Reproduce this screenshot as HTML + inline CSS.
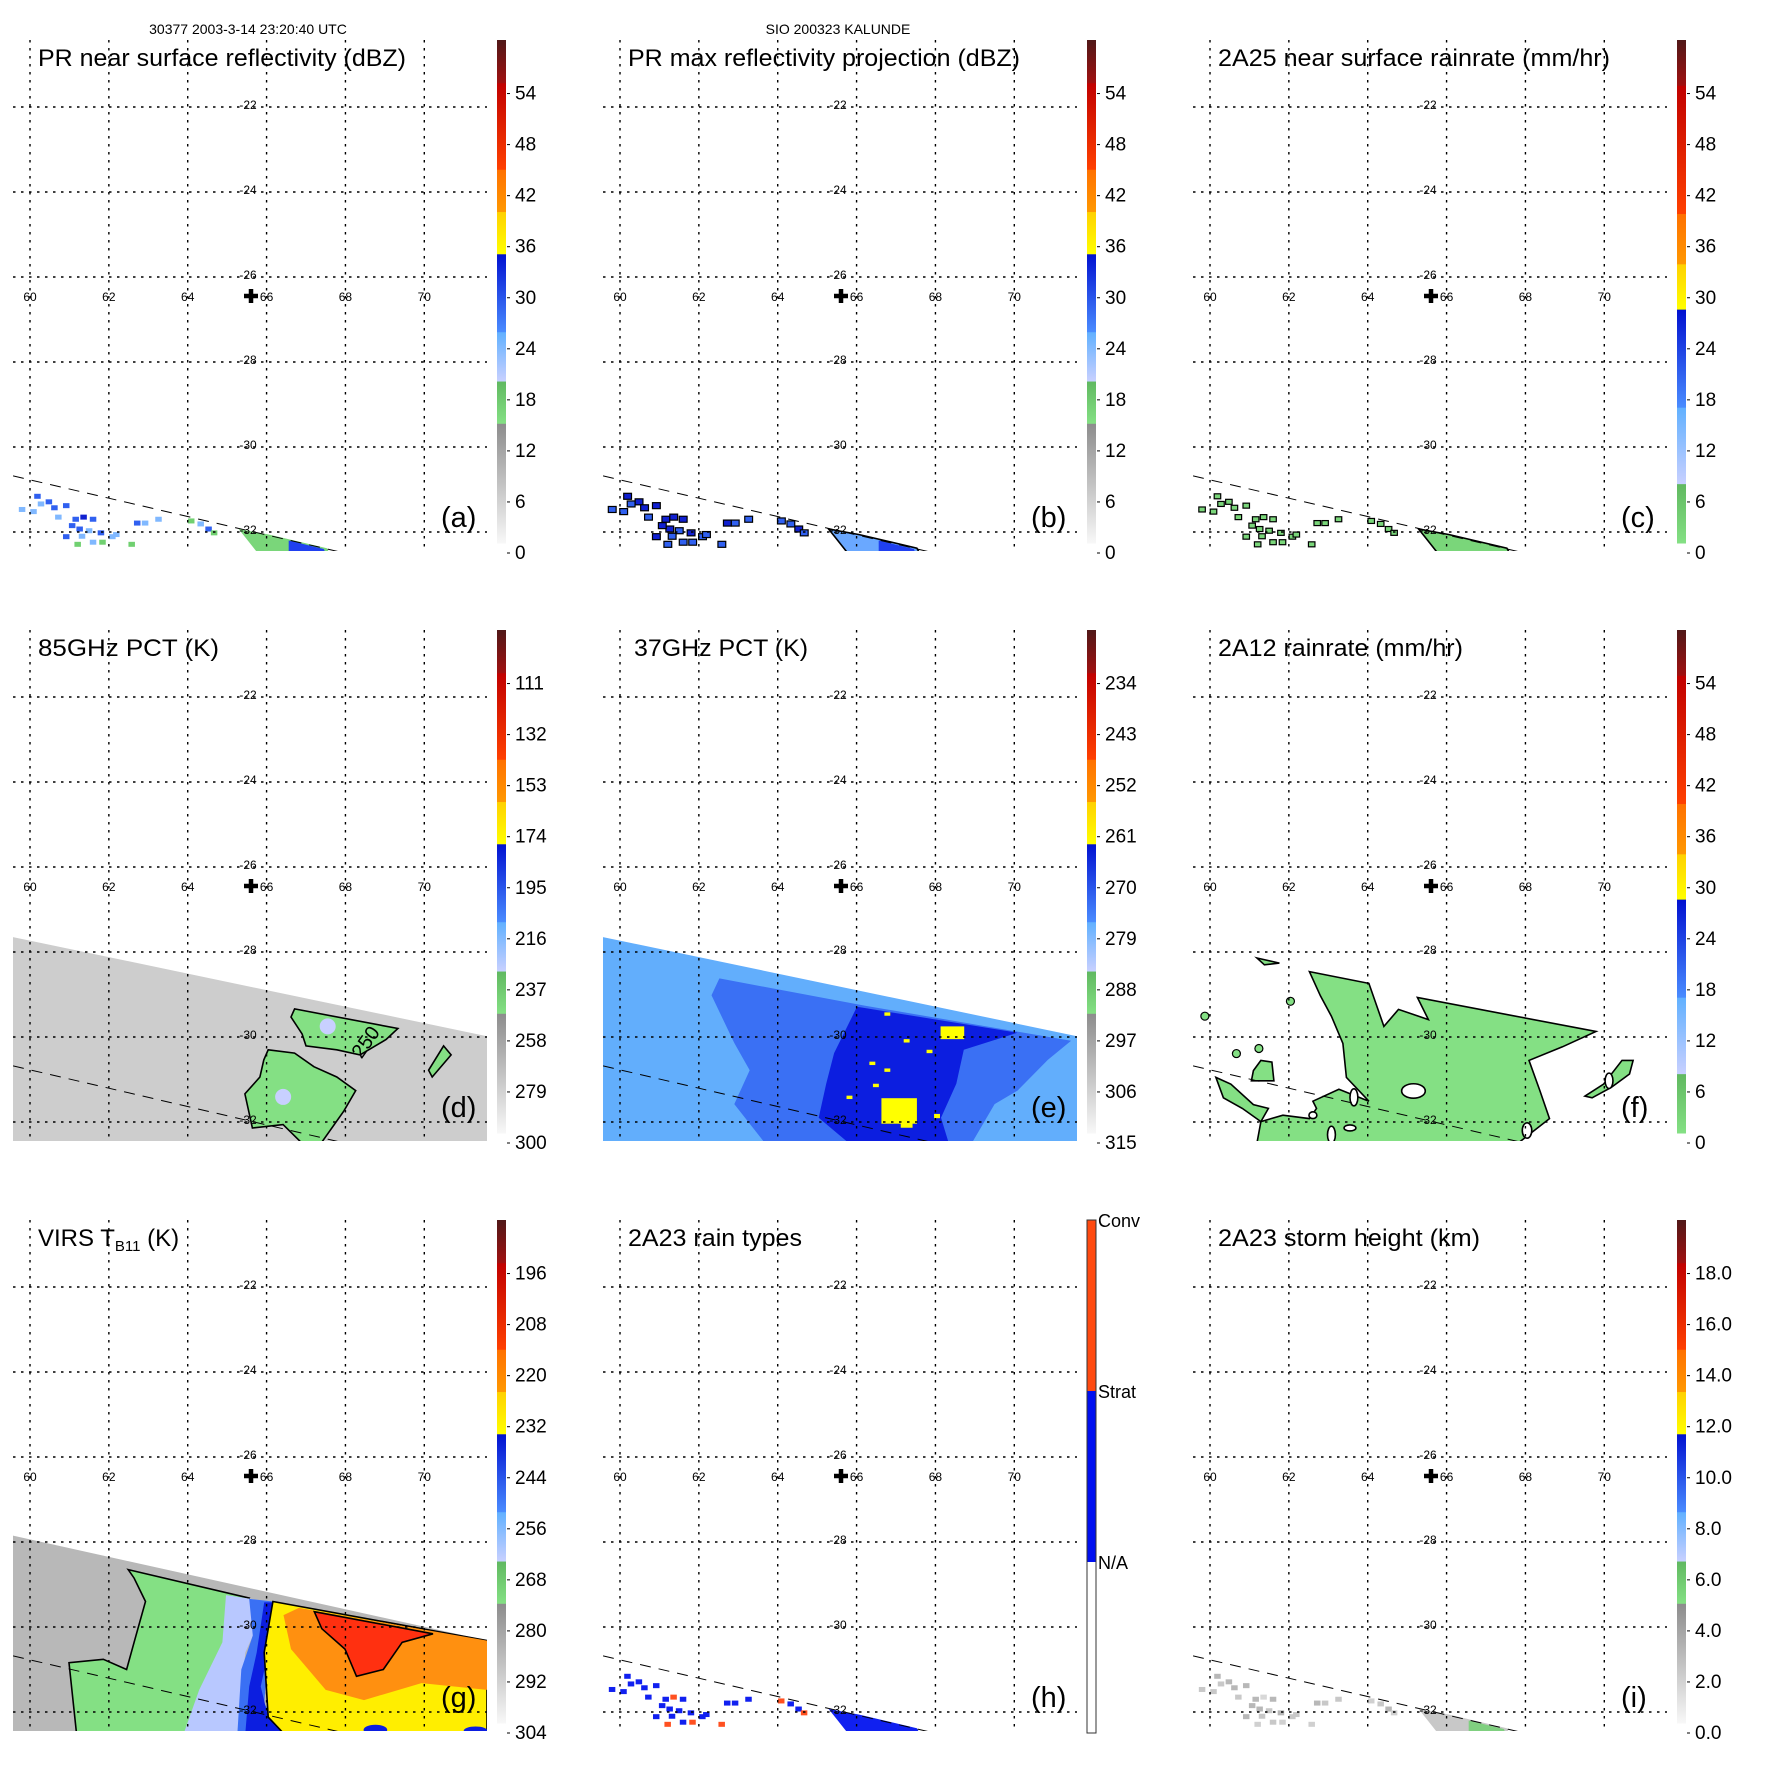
<!DOCTYPE html>
<html><head><meta charset="utf-8">
<style>
html,body{margin:0;padding:0;background:#fff;}
svg{display:block;font-family:"Liberation Sans",sans-serif;}
</style></head>
<body>
<svg id="fig" width="1771" height="1771" viewBox="0 0 1771 1771" xmlns="http://www.w3.org/2000/svg">
<text x="248" y="34" font-size="14" text-anchor="middle">30377 2003-3-14 23:20:40 UTC</text>
<text x="838" y="34" font-size="14" text-anchor="middle">SIO 200323 KALUNDE</text>
</svg>
<script>
const LON_TICKS=[60,62,64,66,68,70];
const LAT_TICKS=[-22,-24,-26,-28,-30,-32];
const TITLES=["PR near surface reflectivity (dBZ)","PR max reflectivity projection (dBZ)","2A25 near surface rainrate (mm/hr)","85GHz PCT (K)","37GHz PCT (K)","2A12 rainrate (mm/hr)","VIRS T","2A23 rain types","2A23 storm height (km)"];
const TITLE_W=[368,392,392,181,174,245,0,174,262];
const LETTERS=["(a)","(b)","(c)","(d)","(e)","(f)","(g)","(h)","(i)"];
const CB_A=["0","6","12","18","24","30","36","42","48","54"];
const CB_D=["300","279","258","237","216","195","174","153","132","111"];
const CB_E=["315","306","297","288","279","270","261","252","243","234"];
const CB_G=["304","292","280","268","256","244","232","220","208","196"];
const CB_I=["0.0","2.0","4.0","6.0","8.0","10.0","12.0","14.0","16.0","18.0"];
const CB_H=["N/A","Strat","Conv"];
const PR_EDGE=[[59.57,-30.68],[68.0,-32.5]];
const TMI_SWATH=[[59.57,-27.65],[71.59,-29.98],[71.59,-32.5],[59.57,-32.5]];
const VIRS_SWATH=[[59.57,-27.85],[71.59,-30.32],[71.59,-32.5],[59.57,-32.5]];
const PR_DOTS=[[59.78,-31.47,1],[60.17,-31.16,2],[60.26,-31.34,1],[60.46,-31.29,2],[60.60,-31.43,2],[60.90,-31.38,2],[60.70,-31.65,1],[61.14,-31.70,2],[61.34,-31.65,3],[61.58,-31.70,2],[61.24,-31.93,2],[61.48,-31.97,1],[61.78,-32.02,2],[62.07,-32.11,1],[61.19,-32.29,0],[61.58,-32.24,1],[62.17,-32.06,1],[62.70,-31.79,2],[62.90,-31.79,1],[63.24,-31.70,1],[64.07,-31.74,0],[64.31,-31.81,1],[64.51,-31.93,2],[64.65,-32.02,0],[62.56,-32.29,0],[60.07,-31.52,1],[60.90,-32.11,2],[61.82,-32.24,0],[61.05,-31.85,2],[61.30,-32.10,1]];
const PR_STRIP=[[65.29,-31.93],[66.07,-32.06],[67.53,-32.38],[67.6,-32.5],[65.78,-32.5],[65.48,-32.15]];
const PR_CORE=[[66.56,-32.20],[67.45,-32.40],[67.5,-32.5],[66.56,-32.5]];
const D_GREEN1=[[66.71,-29.34],[69.33,-29.80],[69.03,-30.06],[68.37,-30.42],[67.78,-30.30],[67.00,-30.21],[66.90,-29.93],[66.62,-29.53]];
const D_GREEN2=[[66.04,-30.30],[66.71,-30.38],[67.20,-30.70],[67.78,-30.94],[68.26,-31.26],[67.96,-31.74],[67.38,-32.5],[66.90,-32.5],[66.42,-32.06],[65.64,-32.14],[65.45,-31.34],[65.83,-30.94],[65.93,-30.54]];
const D_ISLAND=[[70.49,-30.21],[70.68,-30.42],[70.20,-30.94],[70.11,-30.78]];
const D_BLUE=[[66.42,-31.41],[67.55,-29.75]];
const E_MID=[[62.52,-28.62],[66.20,-29.26],[71.44,-30.09],[70.85,-30.54],[70.08,-31.26],[69.50,-31.58],[68.92,-32.5],[63.68,-32.5],[62.90,-31.58],[63.29,-30.78],[62.90,-30.14],[62.32,-29.02]];
const E_DEEP=[[66.01,-29.29],[70.08,-29.90],[68.72,-30.30],[68.53,-31.10],[68.14,-31.90],[68.34,-32.5],[65.81,-32.5],[65.04,-31.90],[65.23,-31.10],[65.43,-30.38]];
const E_YELLOW=[[68.43,-29.90,0.6,0.3],[66.78,-29.46,0.15,0.08],[67.27,-30.09,0.15,0.08],[67.85,-30.34,0.15,0.08],[66.40,-30.62,0.15,0.08],[66.78,-30.78,0.15,0.08],[66.49,-31.14,0.15,0.08],[65.82,-31.42,0.15,0.08],[67.08,-31.74,0.9,0.6],[68.04,-31.86,0.15,0.1],[67.27,-32.06,0.3,0.15]];
const F_MAIN=[[62.52,-28.46],[64.03,-28.74],[64.41,-29.75],[64.78,-29.35],[65.16,-29.47],[65.54,-29.59],[65.26,-29.07],[69.79,-29.87],[68.94,-30.23],[68.09,-30.55],[68.37,-31.27],[68.61,-31.92],[67.81,-32.5],[61.19,-32.5],[61.29,-31.99],[61.85,-31.84],[62.52,-31.92],[62.70,-31.68],[62.61,-31.51],[63.27,-31.23],[64.03,-31.51],[63.46,-30.95],[63.37,-30.15],[63.08,-29.51],[62.80,-29.03]];
const F_ARM=[[60.15,-30.95],[60.53,-31.11],[61.10,-31.59],[61.48,-31.68],[61.29,-31.99],[60.82,-31.68],[60.34,-31.43]];
const F_BLOB=[[61.29,-30.55],[61.57,-30.59],[61.62,-31.03],[61.05,-31.03],[61.10,-30.79]];
const F_ISLAND=[[69.51,-31.39],[69.98,-31.11],[70.45,-30.55],[70.73,-30.55],[70.64,-30.87],[70.17,-31.19],[69.69,-31.43]];
const F_TOP=[[61.19,-28.14],[61.76,-28.26],[61.38,-28.30]];
const F_SMALL=[[62.04,-29.16],[59.87,-29.51],[60.67,-30.39],[61.24,-30.27]];
const F_HOLES=[[65.16,-31.27,0.3,0.17],[63.65,-31.42,0.1,0.2],[63.08,-32.30,0.1,0.2],[68.04,-32.20,0.12,0.18],[70.12,-31.03,0.1,0.18],[62.61,-31.84,0.1,0.08],[63.55,-32.14,0.15,0.07]];
const G_GREEN=[[62.49,-28.65],[65.56,-29.32],[65.07,-30.20],[64.68,-32.5],[61.18,-32.5],[60.99,-30.84],[61.86,-30.76],[62.45,-31.00],[62.64,-30.36],[62.93,-29.40],[62.64,-28.85]];
const G_LBLUE=[[64.97,-29.25],[66.04,-29.40],[65.46,-30.60],[65.26,-32.5],[63.90,-32.5],[64.29,-31.48],[64.88,-30.36]];
const G_BLUE=[[65.56,-29.34],[66.16,-29.40],[66.04,-30.60],[65.94,-31.80],[66.43,-32.5],[65.26,-32.5],[65.36,-31.00],[65.65,-30.20]];
const G_DEEP=[[65.94,-29.42],[66.16,-29.42],[66.04,-30.60],[65.85,-31.40],[66.04,-32.12],[66.48,-32.5],[65.46,-32.5],[65.56,-31.40],[65.75,-30.60]];
const G_YELLOW=[[66.16,-29.40],[71.59,-30.32],[71.59,-32.5],[66.43,-32.5],[66.04,-32.12],[65.94,-30.60]];
const G_ORANGE=[[66.82,-29.55],[71.59,-30.32],[71.59,-31.48],[69.93,-31.32],[68.47,-31.72],[67.50,-31.48],[66.62,-30.52],[66.43,-29.72]];
const G_RED=[[67.21,-29.64],[70.22,-30.16],[69.44,-30.36],[68.96,-31.00],[68.28,-31.16],[67.99,-30.52],[67.40,-30.04]];
const G_BBLOBS=[[68.76,-32.42,0.3,0.12],[71.30,-32.44,0.3,0.1]];

const NS="http://www.w3.org/2000/svg";
const svg=document.getElementById('fig');
function lonX(lon){return 30+(lon-60)*39.43;}
function latY(lat){return 107+(-22-lat)*42.5;}
function pts(a){return a.map(p=>lonX(p[0]).toFixed(1)+','+latY(p[1]).toFixed(1)).join(' ');}
function el(tag,attrs,parent){const e=document.createElementNS(NS,tag);for(const k in attrs)e.setAttribute(k,attrs[k]);(parent||svg).appendChild(e);return e;}
function poly(g,a,fill,stroke,name){const p=el('polygon',{points:pts(a),fill:fill,stroke:stroke||'none','stroke-width':1.6},g);


return p;}

const BANDS_STD=[[0,0.238,'#f8f8f8','#8c8c8c'],[0.238,0.322,'#84e084','#60b860'],[0.322,0.42,'#c8d0ff','#60b0ff'],[0.42,0.575,'#4a8cff','#0010d0'],[0.575,0.659,'#ffff00','#ffd000'],[0.659,0.743,'#ff9800','#ff7000'],[0.743,0.915,'#ff4000','#c00000'],[0.915,1,'#a01010','#501818']];
const BANDS_RR=[[0,0.118,'#84e084','#60b860'],[0.118,0.27,'#c8d0ff','#60b0ff'],[0.27,0.465,'#4a8cff','#0010d0'],[0.465,0.555,'#ffff00','#ffd000'],[0.555,0.655,'#ff9800','#ff7000'],[0.655,0.91,'#ff4000','#c00000'],[0.91,1,'#a01010','#501818']];
let gid=0;
function colorbar(g,bands,labels){
  const x=497,w=9,top=40,bot=543,H=bot-top;
  const cb=el('g',{},g);
  
  
  bands.forEach(b=>{
    const id='gr'+(gid++);
    const lg=el('linearGradient',{id:id,x1:0,y1:1,x2:0,y2:0},cb);
    el('stop',{offset:0,'stop-color':b[2]},lg);el('stop',{offset:1,'stop-color':b[3]},lg);
    const r=el('rect',{x:x,y:bot-b[1]*H,width:w,height:(b[1]-b[0])*H+0.5,fill:'url(#'+id+')'},cb);
    
    
  });
  labels.forEach((l,i)=>{
    const y=553-i*51.05;
    el('line',{x1:x+w+1,x2:x+w+4,y1:y,y2:y,stroke:'#000','stroke-width':1},cb);
    const t=el('text',{x:515,y:y+6,'font-size':19},cb);t.textContent=l;
    
    
  });
}
function colorbarH(g){
  const x=497,w=9,top=40,bot=553,H=bot-top;
  const cb=el('g',{},g);
  
  
  el('rect',{x:x,y:top,width:w,height:H/3,fill:'#ff4a10'},cb);
  el('rect',{x:x,y:top+H/3,width:w,height:H/3,fill:'#0010f0'},cb);
  el('rect',{x:x,y:top,width:w,height:H,fill:'none',stroke:'#333','stroke-width':1},cb);
  CB_H.forEach((l,i)=>{
    const y=top+H*(2-i)/3;
    const t=el('text',{x:x+w+2,y:y+7,'font-size':18},cb);t.textContent=l;
    
    
  });
}
function grid(g){
  const gg=el('g',{},g);
  
  
  LON_TICKS.forEach(l=>{el('line',{x1:lonX(l),x2:lonX(l),y1:40,y2:551,stroke:'#000','stroke-width':1.4,'stroke-dasharray':'2.5 5.5'},gg);});
  LAT_TICKS.forEach(l=>{el('line',{x1:13,x2:487,y1:latY(l),y2:latY(l),stroke:'#000','stroke-width':1.4,'stroke-dasharray':'2.5 5.5'},gg);});
  LON_TICKS.forEach(l=>{const t=el('text',{x:lonX(l),y:301,'font-size':12,'text-anchor':'middle'},gg);t.textContent=l;
    
    });
  LAT_TICKS.forEach(l=>{const t=el('text',{x:248,y:latY(l)+2,'font-size':12,'text-anchor':'middle'},gg);t.textContent=l;
    
    });
  const p=el('path',{d:'M244,296h14M251,289v14',stroke:'#000','stroke-width':4.5},gg);
  
  
}
function edge(g){const l=el('line',{x1:lonX(PR_EDGE[0][0]),y1:latY(PR_EDGE[0][1]),x2:lonX(PR_EDGE[1][0]),y2:latY(PR_EDGE[1][1]),stroke:'#000','stroke-width':1,'stroke-dasharray':'11 8'},g);
  
  }
function prDots(g,colors,stroke,size){
  PR_DOTS.forEach(d=>{
    const r=el('rect',{x:lonX(d[0])-size/2,y:latY(d[1])-size/2,width:size*1.3,height:size,fill:colors[d[2]],stroke:stroke||'none','stroke-width':1.2},g);
    
    
  });
}
const panelColorbars=[[BANDS_STD,CB_A],[BANDS_STD,CB_A],[BANDS_RR,CB_A],[BANDS_STD,CB_D],[BANDS_STD,CB_E],[BANDS_RR,CB_A],[BANDS_STD,CB_G],null,[BANDS_STD,CB_I]];
for(let i=0;i<9;i++){
  const col=i%3,row=Math.floor(i/3);
  const g=el('g',{transform:'translate('+col*590+','+row*590+')'});
  
  
  const cid='clip'+i;
  const cp=el('clipPath',{id:cid},g);el('rect',{x:13,y:40,width:474,height:511},cp);
  const d=el('g',{'clip-path':'url(#'+cid+')'},g);
  
  
  if(i===0){poly(d,PR_STRIP,'#7ad67a','','pr-strip');poly(d,PR_CORE,'#2040f0','','pr-core');prDots(d,['#70d070','#80b8ff','#3060f0','#1020d0'],null,5);}
  if(i===1){poly(d,PR_STRIP,'#6aa8ff','#000','pr-strip');poly(d,PR_CORE,'#2040f0','','pr-core');prDots(d,['#3060f0','#3060f0','#1020d0','#1020d0'],'#000',6);}
  if(i===2){poly(d,PR_STRIP,'#7ad67a','#000','pr-strip');prDots(d,['#7ad67a','#7ad67a','#7ad67a','#7ad67a'],'#000',5);}
  if(i===3){poly(d,TMI_SWATH,'#cdcdcd','','tmi-swath');poly(d,D_GREEN1,'#84e084','#000','cold-region');poly(d,D_GREEN2,'#84e084','#000','cold-region');poly(d,D_ISLAND,'#84e084','#000','cold-region');
    D_BLUE.forEach(b=>{const c=el('circle',{cx:lonX(b[0]),cy:latY(b[1]),r:8,fill:'#c8d0ff'},d);});
    const t=el('text',{x:lonX(68.65),y:latY(-30.21),'font-size':20,transform:'rotate(-55 '+lonX(68.65)+' '+latY(-30.21)+')','text-anchor':'middle'},d);t.textContent='250';
    }
  if(i===4){poly(d,TMI_SWATH,'#62aefc','','tmi-swath');poly(d,E_MID,'#3a70f4','','mid-band');poly(d,E_DEEP,'#0c1ee0','','deep-band');
    E_YELLOW.forEach(y=>{const r=el('rect',{x:lonX(y[0]-y[2]/2),y:latY(y[1]+y[3]/2),width:y[2]*39.43,height:y[3]*42.5,fill:'#ffff00'},d);});}
  if(i===5){poly(d,F_MAIN,'#84e084','#000','rain-area');poly(d,F_ARM,'#84e084','#000','rain-area');poly(d,F_BLOB,'#84e084','#000','rain-area');poly(d,F_ISLAND,'#84e084','#000','rain-area');poly(d,F_TOP,'#84e084','#000','rain-area');
    F_SMALL.forEach(s=>{const c=el('circle',{cx:lonX(s[0]),cy:latY(s[1]),r:4,fill:'#84e084',stroke:'#000','stroke-width':1.2},d);});
    F_HOLES.forEach(h=>{const c=el('ellipse',{cx:lonX(h[0]),cy:latY(h[1]),rx:h[2]*39.43,ry:h[3]*42.5,fill:'#fff',stroke:'#000','stroke-width':1.6},d);});}
  if(i===6){poly(d,VIRS_SWATH,'#b8b8b8','','virs-swath');poly(d,G_GREEN,'#84e084','#000','tb-268');poly(d,G_LBLUE,'#b8c8ff','','tb-256');poly(d,G_BLUE,'#3a70f4','','tb-244');poly(d,G_DEEP,'#0c1ee0','','tb-240');poly(d,G_YELLOW,'#ffee00','#000','tb-232');poly(d,G_ORANGE,'#ff9010','','tb-220');poly(d,G_RED,'#ff3010','#000','tb-208');
    G_BBLOBS.forEach(h=>{const c=el('ellipse',{cx:lonX(h[0]),cy:latY(h[1]),rx:h[2]*39.43,ry:h[3]*42.5,fill:'#0c1ee0'},d);});}
  if(i===7){poly(d,PR_STRIP,'#1020f0','','stratiform-strip');prDots(d,['#ff5020','#1020f0','#1020f0','#ff5020'],null,5);}
  if(i===8){poly(d,PR_STRIP,'#c8c8c8','','height-strip');poly(d,PR_CORE,'#80d080','','height-core');prDots(d,['#d0d0d0','#c8c8c8','#b8b8b8','#d8d8d8'],null,5);}
  edge(d);
  grid(g);
  const tt=el('text',{x:i===4?44:38,y:66,'font-size':24},g);
  
  
  if(i===6){tt.textContent='VIRS T';const s=el('tspan',{'font-size':15,dy:5},tt);s.textContent='B11';const s2=el('tspan',{dy:-5},tt);s2.textContent=' (K)';}
  else{tt.textContent=TITLES[i];tt.setAttribute('textLength',TITLE_W[i]);tt.setAttribute('lengthAdjust','spacingAndGlyphs');}
  const lt=el('text',{x:441,y:527,'font-size':29},g);lt.textContent=LETTERS[i];
  
  
  if(panelColorbars[i])colorbar(g,panelColorbars[i][0],panelColorbars[i][1]);else colorbarH(g);
}
</script>
</body></html>
